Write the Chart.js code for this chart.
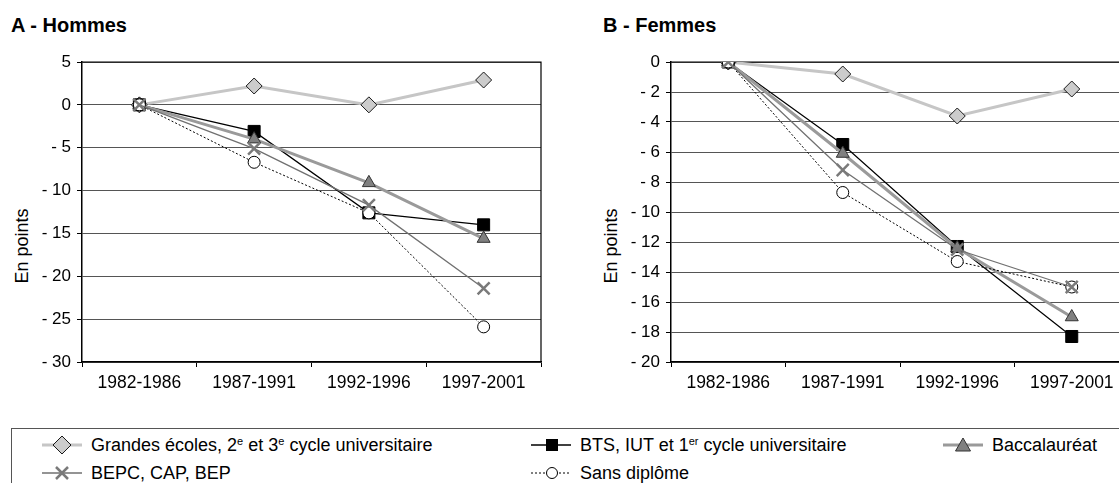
<!DOCTYPE html>
<html>
<head>
<meta charset="utf-8">
<script src="https://cdn.jsdelivr.net/npm/chart.js@4"></script>
<style>
  html, body { margin: 0; padding: 0; background: #fff; overflow: hidden; width: 1119px; height: 483px; }
  body { position: relative; font-family: "Liberation Sans", Arial, sans-serif; color: #000; }
  canvas { position: absolute; top: 0; }
  #chartA { left: 0; }
  #chartB { left: 560px; }
  .title { position: absolute; top: 13px; font-weight: bold; font-size: 20px; line-height: 24px; }
  .ytitle { position: absolute; font-size: 18px; line-height: 18px; white-space: nowrap;
            transform: translate(-50%, -50%) rotate(-90deg); }
  #legend { position: absolute; left: 11px; top: 428px; width: 1200px; height: 100px;
            border: 1.5px solid #555; box-sizing: border-box; }
  .item { position: absolute; height: 20px; display: flex; align-items: center; font-size: 18px; line-height: 20px; white-space: nowrap; }
  .item svg { flex: none; }
  sup { font-size: 11px; line-height: 0; vertical-align: 6px; }
</style>
</head>
<body>
<div class="title" style="left:11px">A - Hommes</div>
<div class="title" style="left:603px">B - Femmes</div>
<div class="ytitle" style="left:22px; top:246px">En points</div>
<div class="ytitle" style="left:611px; top:246px">En points</div>
<canvas id="chartA" width="560" height="400"></canvas>
<canvas id="chartB" width="580" height="400"></canvas>
<div id="legend"></div>

<script>
const periods = ["1982-1986", "1987-1991", "1992-1996", "1997-2001"];

// A - Hommes
const grandesEcolesH = [0, 2.2, 0, 2.9];
const btsH = [0, -3.1, -12.6, -14.0];
const bacH = [0, -4.0, -9.1, -15.6];
const bepcH = [0, -5.1, -11.7, -21.4];
const sansDiplomeH = [0, -6.7, -12.6, -25.9];

// B - Femmes
const grandesEcolesF = [0, -0.8, -3.6, -1.8];
const btsF = [0, -5.5, -12.3, -18.3];
const bacF = [0, -6.1, -12.4, -17.0];
const bepcF = [0, -7.2, -12.5, -15.0];
const sansDiplomeF = [0, -8.7, -13.3, -15.0];

const axisA = { min: -30, max: 5, step: 5 };
const axisB = { min: -20, max: 0, step: 2 };

Chart.defaults.font.family = '"Liberation Sans", Arial, sans-serif';
Chart.defaults.color = "#000";

// series styles, same order as the legend
const styles = [
    { borderColor: "#c6c6c6", borderWidth: 3, pointStyle: "rectRot", pointRadius: 8,
      pointBackgroundColor: "#cccccc", pointBorderColor: "#1a1a1a", pointBorderWidth: 1, order: 5 },
    { borderColor: "#000", borderWidth: 1.2, pointStyle: "rect", pointRadius: 8.5,
      pointBackgroundColor: "#000", pointBorderColor: "#000", pointBorderWidth: 1, order: 4 },
    { borderColor: "#9a9a9a", borderWidth: 3, pointStyle: "triangle", pointRadius: 7.5,
      pointBackgroundColor: "#808080", pointBorderColor: "#333", pointBorderWidth: 1, order: 3 },
    { borderColor: "#707070", borderWidth: 1.3, pointStyle: "crossRot", pointRadius: 8.5,
      pointBackgroundColor: "#7a7a7a", pointBorderColor: "#7a7a7a", pointBorderWidth: 2.5, order: 1 },
    { borderColor: "#000", borderWidth: 1, borderDash: [2, 2], pointStyle: "circle", pointRadius: 6,
      pointBackgroundColor: "#fff", pointBorderColor: "#000", pointBorderWidth: 1, order: 2 }
];

// top and right edges of the plot area
const frame = {
    id: "frame",
    beforeDatasetsDraw(chart) {
        const a = chart.chartArea, ctx = chart.ctx;
        ctx.save();
        ctx.strokeStyle = "#000";
        ctx.lineWidth = 1.2;
        ctx.beginPath();
        ctx.moveTo(a.left, a.top);
        ctx.lineTo(a.right, a.top);
        ctx.lineTo(a.right, a.bottom);
        ctx.stroke();
        ctx.restore();
    }
};

function makeChart(id, series, axis, yWidth, padRight) {
    const ctx = document.getElementById(id).getContext("2d");
    return new Chart(ctx, {
        type: "line",
        data: {
            labels: periods,
            datasets: series.map((data, i) => Object.assign({ data: data, fill: false, tension: 0 }, styles[i]))
        },
        options: {
            responsive: false,
            animation: false,
            devicePixelRatio: 1,
            layout: { padding: { top: 62, right: padRight, bottom: 0, left: 0 } },
            plugins: { legend: { display: false }, tooltip: { enabled: false } },
            scales: {
                x: {
                    offset: true,
                    grid: { offset: true, drawOnChartArea: false, tickLength: 5, tickColor: "#000" },
                    border: { color: "#000", width: 1.5 },
                    ticks: { font: { size: 17.5 }, padding: 6, maxRotation: 0 },
                    afterFit: s => { s.height = 38; }
                },
                y: {
                    min: axis.min, max: axis.max,
                    grid: { color: "#555", lineWidth: 1, tickLength: 5, tickColor: "#000" },
                    border: { color: "#000", width: 1.5 },
                    ticks: {
                        stepSize: axis.step, font: { size: 17 }, padding: 6,
                        callback: v => v < 0 ? "- " + Math.abs(v) : String(v)
                    },
                    afterFit: s => { s.width = yWidth; }
                }
            }
        },
        plugins: [frame]
    });
}

makeChart("chartA", [grandesEcolesH, btsH, bacH, bepcH, sansDiplomeH], axisA, 82, 19);
makeChart("chartB", [grandesEcolesF, btsF, bacF, bepcF, sansDiplomeF], axisB, 111, 9);

// legend
const icons = {
    diamond: '<line x1="0" y1="10" x2="40" y2="10" stroke="#c6c6c6" stroke-width="3"/>' +
             '<polygon points="11,10 20,1 29,10 20,19" fill="#cccccc" stroke="#1a1a1a" stroke-width="1"/>',
    square: '<line x1="0" y1="10" x2="40" y2="10" stroke="#000" stroke-width="1.5"/>' +
            '<rect x="15" y="4" width="12" height="12" fill="#000"/>',
    triangle: '<line x1="0" y1="10" x2="40" y2="10" stroke="#9a9a9a" stroke-width="3"/>' +
              '<polygon points="20,3 27.5,16 12.5,16" fill="#808080" stroke="#333" stroke-width="1"/>',
    cross: '<line x1="0" y1="10" x2="40" y2="10" stroke="#707070" stroke-width="1.3"/>' +
           '<path d="M14 4 L26 16 M26 4 L14 16" stroke="#7a7a7a" stroke-width="2.5"/>',
    circle: '<line x1="0" y1="10" x2="40" y2="10" stroke="#000" stroke-width="1" stroke-dasharray="2,2"/>' +
            '<circle cx="21" cy="10" r="5.5" fill="#fff" stroke="#000" stroke-width="1"/>'
};
const legendItems = [
    { icon: "diamond", text: "Grandes écoles, 2<sup>e</sup> et 3<sup>e</sup> cycle universitaire", x: 42, y: 445 },
    { icon: "square", text: "BTS, IUT et 1<sup>er</sup> cycle universitaire", x: 531, y: 445 },
    { icon: "triangle", text: "Baccalauréat", x: 943, y: 445 },
    { icon: "cross", text: "BEPC, CAP, BEP", x: 42, y: 473 },
    { icon: "circle", text: "Sans diplôme", x: 531, y: 473 }
];
legendItems.forEach(it => {
    const d = document.createElement("div");
    d.className = "item";
    d.style.left = it.x + "px";
    d.style.top = (it.y - 10) + "px";
    d.innerHTML = '<svg width="40" height="20">' + icons[it.icon] + '</svg><span style="margin-left:9px">' + it.text + '</span>';
    document.body.appendChild(d);
});
</script>
</body>
</html>
